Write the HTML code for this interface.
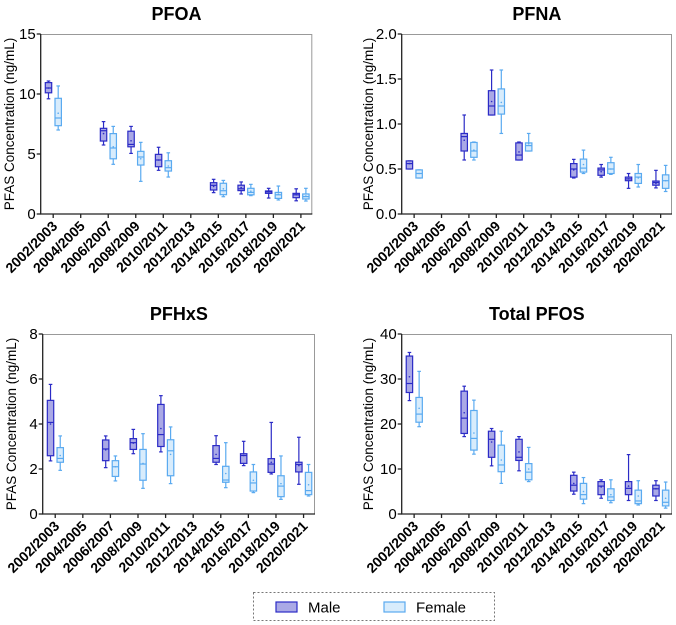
<!DOCTYPE html>
<html><head><meta charset="utf-8"><style>
html,body{margin:0;padding:0;background:#fff;}
svg{display:block;font-family:"Liberation Sans",Arial,sans-serif;}
</style></head><body>
<svg id="chart" width="676" height="625" viewBox="0 0 676 625" xmlns="http://www.w3.org/2000/svg">
<g>
<rect x="253.5" y="592.5" width="241" height="28" fill="none" stroke="#777" stroke-dasharray="2,2"/>
<rect x="276" y="602" width="21" height="10" fill="#aaa9e6" stroke="#2b2bc6" stroke-width="1.2"/>
<text x="308" y="612.5" font-size="15">Male</text>
<rect x="384" y="602" width="21" height="10" fill="#d8ecfc" stroke="#5aaaf0" stroke-width="1.2"/>
<text x="416" y="612.5" font-size="15">Female</text>
</g>
</svg>
<script>
const categories=["2002/2003","2004/2005","2006/2007","2008/2009","2010/2011","2012/2013","2014/2015","2016/2017","2018/2019","2020/2021"];
// each entry: [whiskerLow, q1, median, q3, whiskerHigh, mean]; null = no data
const pfoaMale=[[9.6,10.1,10.5,10.95,11.08,10.5],null,[5.75,6.08,6.94,7.14,7.7,6.7],[5.05,5.6,5.8,6.9,7.3,6.1],[3.64,3.94,4.5,4.97,5.56,4.5],null,[1.78,2.0,2.39,2.61,2.89,2.3],[1.67,1.95,2.1,2.4,2.67,2.2],[1.33,1.72,1.85,1.92,2.14,1.85],[1.1,1.36,1.6,1.72,2.1,1.6]];
const pfoaFemale=[[7.0,7.36,8.0,9.64,10.67,8.4],null,[4.14,4.6,5.5,6.7,7.3,5.6],[2.72,4.08,4.75,5.22,5.97,4.6],[3.08,3.58,3.86,4.44,5.1,4.0],null,[1.44,1.61,1.94,2.56,2.8,2.1],[1.53,1.6,1.8,2.14,2.47,1.9],[1.17,1.3,1.6,1.8,2.33,1.65],[1.08,1.25,1.45,1.67,2.14,1.5]];
const pfnaMale=[[0.5,0.5,0.56,0.59,0.59,0.56],null,[0.6,0.7,0.86,0.895,1.1,0.82],[1.1,1.1,1.2,1.37,1.6,1.25],[0.6,0.6,0.655,0.79,0.8,0.69],null,[0.4,0.41,0.5,0.56,0.607,0.49],[0.41,0.43,0.49,0.51,0.55,0.47],[0.285,0.37,0.39,0.41,0.45,0.39],[0.29,0.32,0.35,0.366,0.485,0.34]];
const pfnaFemale=[[0.4,0.4,0.45,0.49,0.49,0.45],null,[0.6,0.63,0.7,0.795,0.8,0.71],[0.895,1.11,1.2,1.39,1.6,1.24],[0.7,0.7,0.76,0.79,0.895,0.78],null,[0.45,0.466,0.51,0.61,0.71,0.55],[0.44,0.45,0.5,0.57,0.63,0.5],[0.3,0.34,0.41,0.45,0.55,0.4],[0.25,0.285,0.37,0.435,0.54,0.37]];
const pfhxsMale=[[2.36,2.59,4.07,5.05,5.76,4.0],null,[2.06,2.37,2.89,3.29,3.47,2.85],[2.68,2.87,3.17,3.35,3.76,3.15],[2.76,3.0,3.53,4.87,5.26,3.8],null,[2.2,2.3,2.47,3.04,3.48,2.65],[2.15,2.25,2.6,2.68,3.23,2.6],[1.78,1.85,2.22,2.46,4.07,2.3],[1.32,1.87,2.2,2.3,3.41,2.15]];
const pfhxsFemale=[[1.94,2.3,2.47,2.95,3.47,2.6],null,[1.47,1.67,2.1,2.37,2.58,2.1],[1.14,1.5,2.22,2.87,3.57,2.25],[1.35,1.7,2.81,3.3,3.87,2.65],null,[1.17,1.41,1.51,2.12,3.17,1.8],[0.95,1.02,1.38,1.87,2.2,1.5],[0.65,0.77,1.24,1.7,2.58,1.35],[0.8,0.86,1.04,1.85,2.2,1.3]];
const pfosMale=[[25.2,27.0,29.0,35.1,35.9,30.5],null,[17.2,17.9,21.3,27.3,28.4,22.5],[10.7,12.6,16.6,18.4,19.0,16],[9.6,11.9,12.6,16.6,17.2,13.8],null,[4.4,5.1,6.4,8.6,9.3,6.8],[3.5,4.3,6.2,7.2,7.6,6],[3.0,4.3,5.7,7.2,13.2,6.2],[3.0,4.0,5.6,6.4,7.4,5.6]];
const pfosFemale=[[19.4,20.4,22.2,25.9,31.7,23.5],null,[13.3,14.2,16.8,23.0,25.3,18],[6.8,9.4,10.9,15.3,18.4,12],[7.2,7.6,9.3,11.2,14.8,10],null,[2.3,3.3,4.3,6.8,8.1,5],[2.5,3.0,3.8,5.6,7.6,4.3],[2.0,2.3,2.9,5.3,7.4,4.0],[1.3,1.8,2.6,5.3,7.1,3.5]];
const pfoaTicks=[0,5,10,15];
const pfnaTicks=[0,0.5,1.0,1.5,2.0];
const pfhxsTicks=[0,2,4,6,8];
const pfosTicks=[0,10,20,30,40];

const NS="http://www.w3.org/2000/svg";
const svg=document.getElementById('chart');
function mk(tag,attrs,parent){const e=document.createElementNS(NS,tag);for(const k in attrs)e.setAttribute(k,attrs[k]);parent.appendChild(e);return e;}

const panels=[
 {id:'pfoa',title:'PFOA',L:40.7,R:312.3,T:34,B:214,max:15,ticks:pfoaTicks,dec:0,male:pfoaMale,female:pfoaFemale,ylx:9},
 {id:'pfna',title:'PFNA',L:401.7,R:672,T:34,B:214,max:2,ticks:pfnaTicks,dec:1,male:pfnaMale,female:pfnaFemale,ylx:368},
 {id:'pfhxs',title:'PFHxS',L:42.7,R:315,T:334,B:514,max:8,ticks:pfhxsTicks,dec:0,male:pfhxsMale,female:pfhxsFemale,ylx:11},
 {id:'pfos',title:'Total PFOS',L:401.7,R:672,T:334,B:514,max:40,ticks:pfosTicks,dec:0,male:pfosMale,female:pfosFemale,ylx:368}
];
const styles={male:{fill:'#aaa9e6',stroke:'#2b2bc6',off:-4.7},female:{fill:'#d8ecfc',stroke:'#5aaaf0',off:5}};

panels.forEach(p=>{
 const g=mk('g',{},svg);
 
 
 const w=p.R-p.L;
 const x0=p.L+0.046*w, step=(w-0.046*w-0.042*w)/9;
 const xs=i=>x0+i*step;
 const ys=v=>p.B-(v/p.max)*(p.B-p.T);
 const t=mk('text',{x:(p.L+p.R)/2,y:p.T-14,'text-anchor':'middle','font-size':'18','font-weight':'bold'},g);
 t.textContent=p.title;
 
 
 const fr=mk('path',{d:`M${p.L} ${p.T+0.5}H${p.R-0.5}V${p.B}`,fill:'none',stroke:'#999','stroke-width':'1'},g);
 
 
 const ax=mk('path',{d:`M${p.L} ${p.T}V${p.B}H${p.R}`,fill:'none',stroke:'#222','stroke-width':'1.3'},g);
 
 
 p.ticks.forEach(v=>{
  const y=ys(v);
  const tk=mk('line',{x1:p.L-4,x2:p.L,y1:y,y2:y,stroke:'#222','stroke-width':'1.3'},g);
  
  
  const tl=mk('text',{x:p.L-5,y:y+5,'text-anchor':'end','font-size':'15'},g);
  tl.textContent=v.toFixed(p.dec);
  
  
 });
 const yl=mk('text',{x:p.ylx,y:(p.T+p.B)/2,'text-anchor':'middle','font-size':'13.5',transform:`rotate(-90 ${p.ylx} ${(p.T+p.B)/2})`,dy:'5'},g);
 yl.textContent='PFAS Concentration (ng/mL)';
 
 
 categories.forEach((c,i)=>{
  const x=xs(i);
  const tk=mk('line',{x1:x,x2:x,y1:p.B,y2:p.B+4,stroke:'#222','stroke-width':'1.3'},g);
  
  
  const lx=x+5,ly=p.B+13;
  const tl=mk('text',{x:lx,y:ly,'text-anchor':'end','font-size':'14','font-weight':'bold',transform:`rotate(-45 ${lx} ${ly})`},g);
  tl.textContent=c;
  
  
 });
 ['male','female'].forEach(sex=>{
  const st=styles[sex];
  p[sex].forEach((d,i)=>{
   if(!d)return;
   const cx=xs(i)+st.off, hw=3.2;
   const bg=mk('g',{stroke:st.stroke,'stroke-width':'1.2',fill:'none'},g);
   
   
   mk('line',{x1:cx,x2:cx,y1:ys(d[0]),y2:ys(d[4])},bg);
   mk('line',{x1:cx-1.8,x2:cx+1.8,y1:ys(d[0]),y2:ys(d[0])},bg);
   mk('line',{x1:cx-1.8,x2:cx+1.8,y1:ys(d[4]),y2:ys(d[4])},bg);
   mk('rect',{x:cx-hw,y:ys(d[3]),width:hw*2,height:Math.max(0.5,ys(d[1])-ys(d[3])),fill:st.fill},bg);
   mk('line',{x1:cx-hw,x2:cx+hw,y1:ys(d[2]),y2:ys(d[2])},bg);
   mk('circle',{cx:cx,cy:ys(d[5]),r:0.8,fill:st.stroke,stroke:'none'},bg);
  });
 });
});
</script>
</body></html>
